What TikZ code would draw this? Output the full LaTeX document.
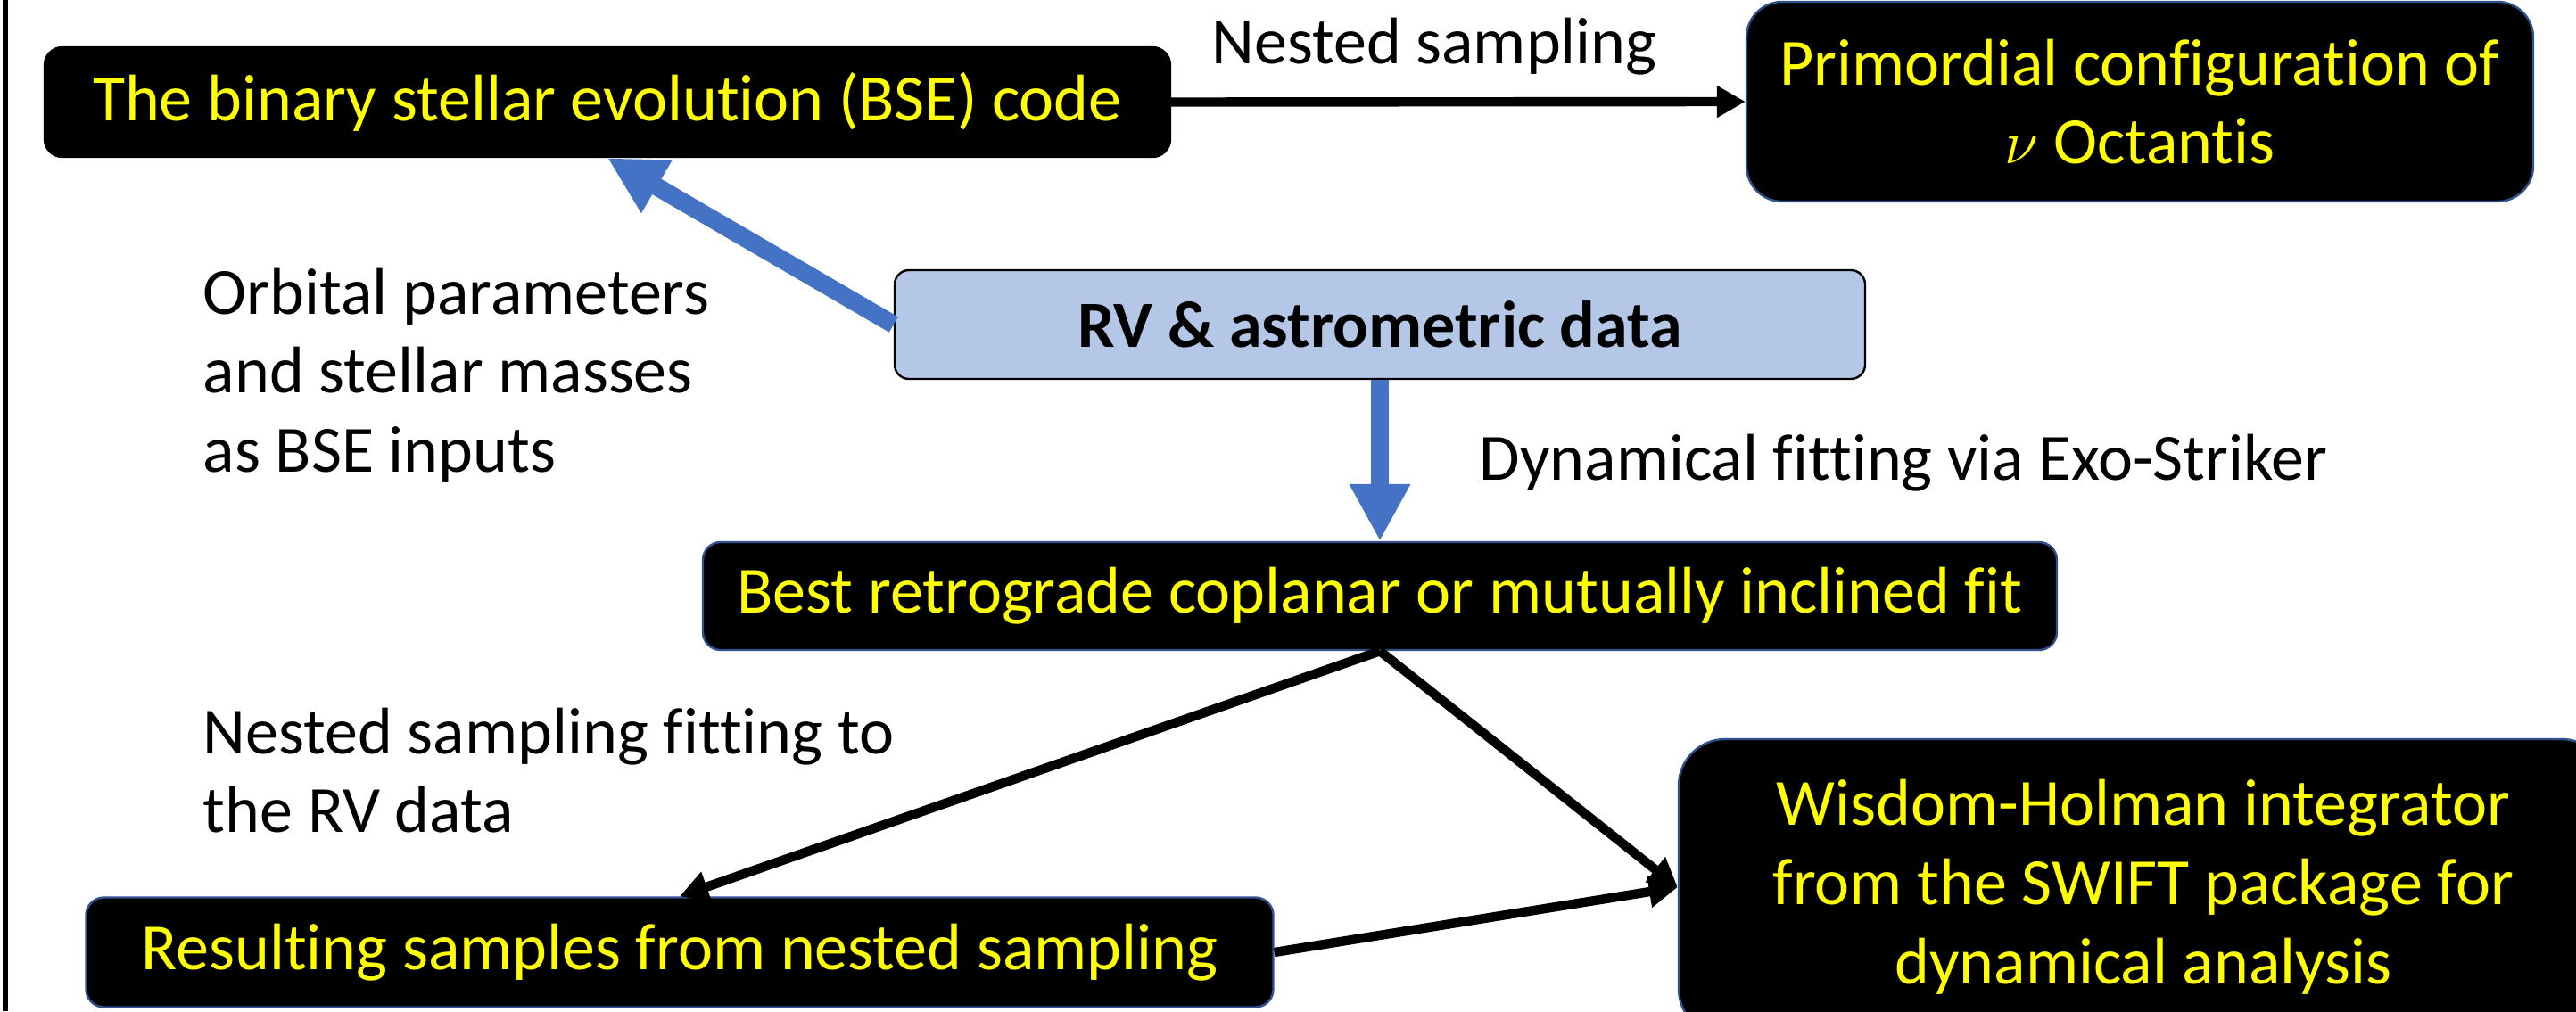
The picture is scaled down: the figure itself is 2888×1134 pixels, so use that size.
\documentclass[tikz,border=0pt]{standalone}
\usepackage{fontspec}
\setmainfont[Ligatures={NoCommon,TeX}]{Carlito}
\usetikzlibrary{arrows.meta}
\definecolor{ppblue}{HTML}{4472C4}
\definecolor{ppedge}{HTML}{2F528F}
\definecolor{pplight}{HTML}{B4C7E7}
\definecolor{ppyellow}{HTML}{FFFF00}
\tikzset{
  box/.style={rectangle, rounded corners=5pt, inner sep=0pt, align=center,
    text=ppyellow, fill=black, draw=ppedge, line width=0.6pt},
  lbl/.style={text=black, inner sep=0pt, align=left},
  blk/.style={-{Triangle[length=8pt,width=8.5pt]}, line width=2.6pt, draw=black},
  blu/.style={-{Triangle[length=16pt,width=16pt]}, draw=ppblue, line width=5pt}
}
\begin{document}
\begin{tikzpicture}[x=0.25pt,y=-0.25pt,font=\fontsize{18.5}{22.2}\selectfont]
\clip (0,0) rectangle (2888,1134);
\fill[white] (0,0) rectangle (2888,1134);
\draw[line width=1.4pt] (6,0) coordinate (lt) -- (6,1134) coordinate (lb);
% boxes
\node[box, draw=black, minimum width=315.5pt, minimum height=30.75pt] (bse) at (681,114.5) {The binary stellar evolution (BSE) code};
\node[box, rounded corners=10pt, minimum width=220.5pt, minimum height=56pt] (prim) at (2399,114) {Primordial configuration of\\$\nu$ Octantis};
\node[box, rounded corners=4pt, fill=pplight, draw=black, text=black, minimum width=272pt, minimum height=30.5pt] (rv) at (1547,364) {\textbf{RV \& astrometric data}};
\node[box, minimum width=379.5pt, minimum height=30.25pt] (best) at (1547,668.5) {Best retrograde coplanar or mutually inclined fit};
\node[box, minimum width=332.75pt, minimum height=30.75pt] (res) at (762,1068) {Resulting samples from nested sampling};
\node[box, rounded corners=13pt, minimum width=260.5pt, minimum height=83pt] (wh) at (2403,995) {Wisdom-Holman integrator\\from the SWIFT package for\\dynamical analysis};
% labels
\node[lbl, anchor=base] (nsl) at (1608,72) {Nested sampling};
\node[lbl, anchor=base west] (dfl) at (1658,538) {Dynamical fitting via Exo-Striker};
\node[lbl, anchor=north west] (opl) at (227,300) {Orbital parameters\\and stellar masses\\as BSE inputs};
\node[lbl, anchor=north west] (nsfl) at (227,793) {Nested sampling fitting to\\the RV data};
% connectors
\draw[blk] (bse.east) -- (prim.west);
\draw[blu] (rv.west) -- (bse.south);
\draw[blu] (rv.south) -- (best.north);
\draw[blk] (best.south) -- (res.north);
\draw[blk] (best.south) -- (wh.west);
\draw[blk] (res.east) -- (wh.west);
\end{tikzpicture}
\end{document}
